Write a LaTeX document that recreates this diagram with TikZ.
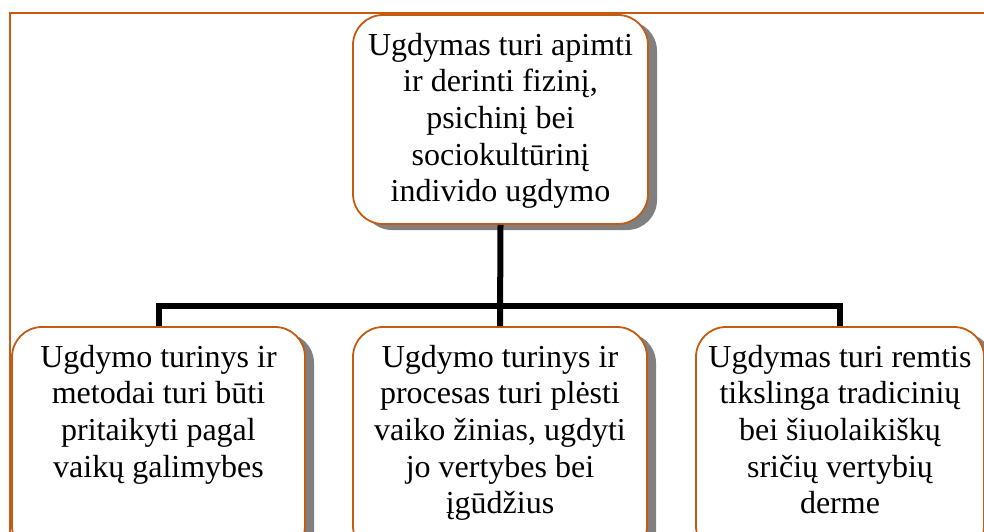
\documentclass[tikz,border=0pt]{standalone}
\usepackage{fontspec}
\setmainfont{Liberation Serif}
\usetikzlibrary{shadows}
\definecolor{frameorange}{HTML}{C55A11}
\definecolor{shadowgray}{HTML}{808080}
\newcommand\boxtext[3]{\parbox[c][#1][t]{#2}{\centering\strut #3}}
\begin{document}
\begin{tikzpicture}[x=1pt,y=-1pt,
  box/.style={draw=frameorange, line width=1.8pt, fill=white, rounded corners=30pt,
    inner xsep=6pt, inner ysep=14.5pt,
    font=\fontsize{32}{36.7}\selectfont,
    drop shadow={shadow xshift=9pt, shadow yshift=-6pt, fill=shadowgray, opacity=1}},
  link/.style={line width=6pt, line join=miter, line cap=butt, black}]
\useasboundingbox (0,0) rectangle (984,532);
\clip (0,0) rectangle (984,532);
\fill[white] (0,0) rectangle (984,532);
% outer frame (only top and left edges visible)
\draw[frameorange, line width=2.4pt] (10,600) -- (10,13) -- (1000,13);
\coordinate (bus) at (500,306);
\node[box] (top) at (500.5,119.5) {\boxtext{180pt}{283pt}{Ugdymas turi apimti\\ ir derinti fizinį,\\ psichinį bei\\ sociokultūrinį\\ individo ugdymo}};
\node[box] (L) at (158.5,441.5) {\boxtext{200pt}{281pt}{Ugdymo turinys ir\\ metodai turi būti\\ pritaikyti pagal\\ vaikų galimybes}};
\node[box] (M) at (500,441.5) {\boxtext{200pt}{282pt}{Ugdymo turinys ir\\ procesas turi plėsti\\ vaiko žinias, ugdyti\\ jo vertybes bei\\ įgūdžius}};
\node[box] (R) at (840,441.5) {\boxtext{200pt}{276pt}{Ugdymas turi remtis\\ tikslinga tradicinių\\ bei šiuolaikiškų\\ sričių vertybių\\ derme}};
\draw[link] (top.south) -- (M.north);
\draw[link] (L.north) -- (L.north |- bus) -- (R.north |- bus) -- (R.north);
\end{tikzpicture}
\end{document}
